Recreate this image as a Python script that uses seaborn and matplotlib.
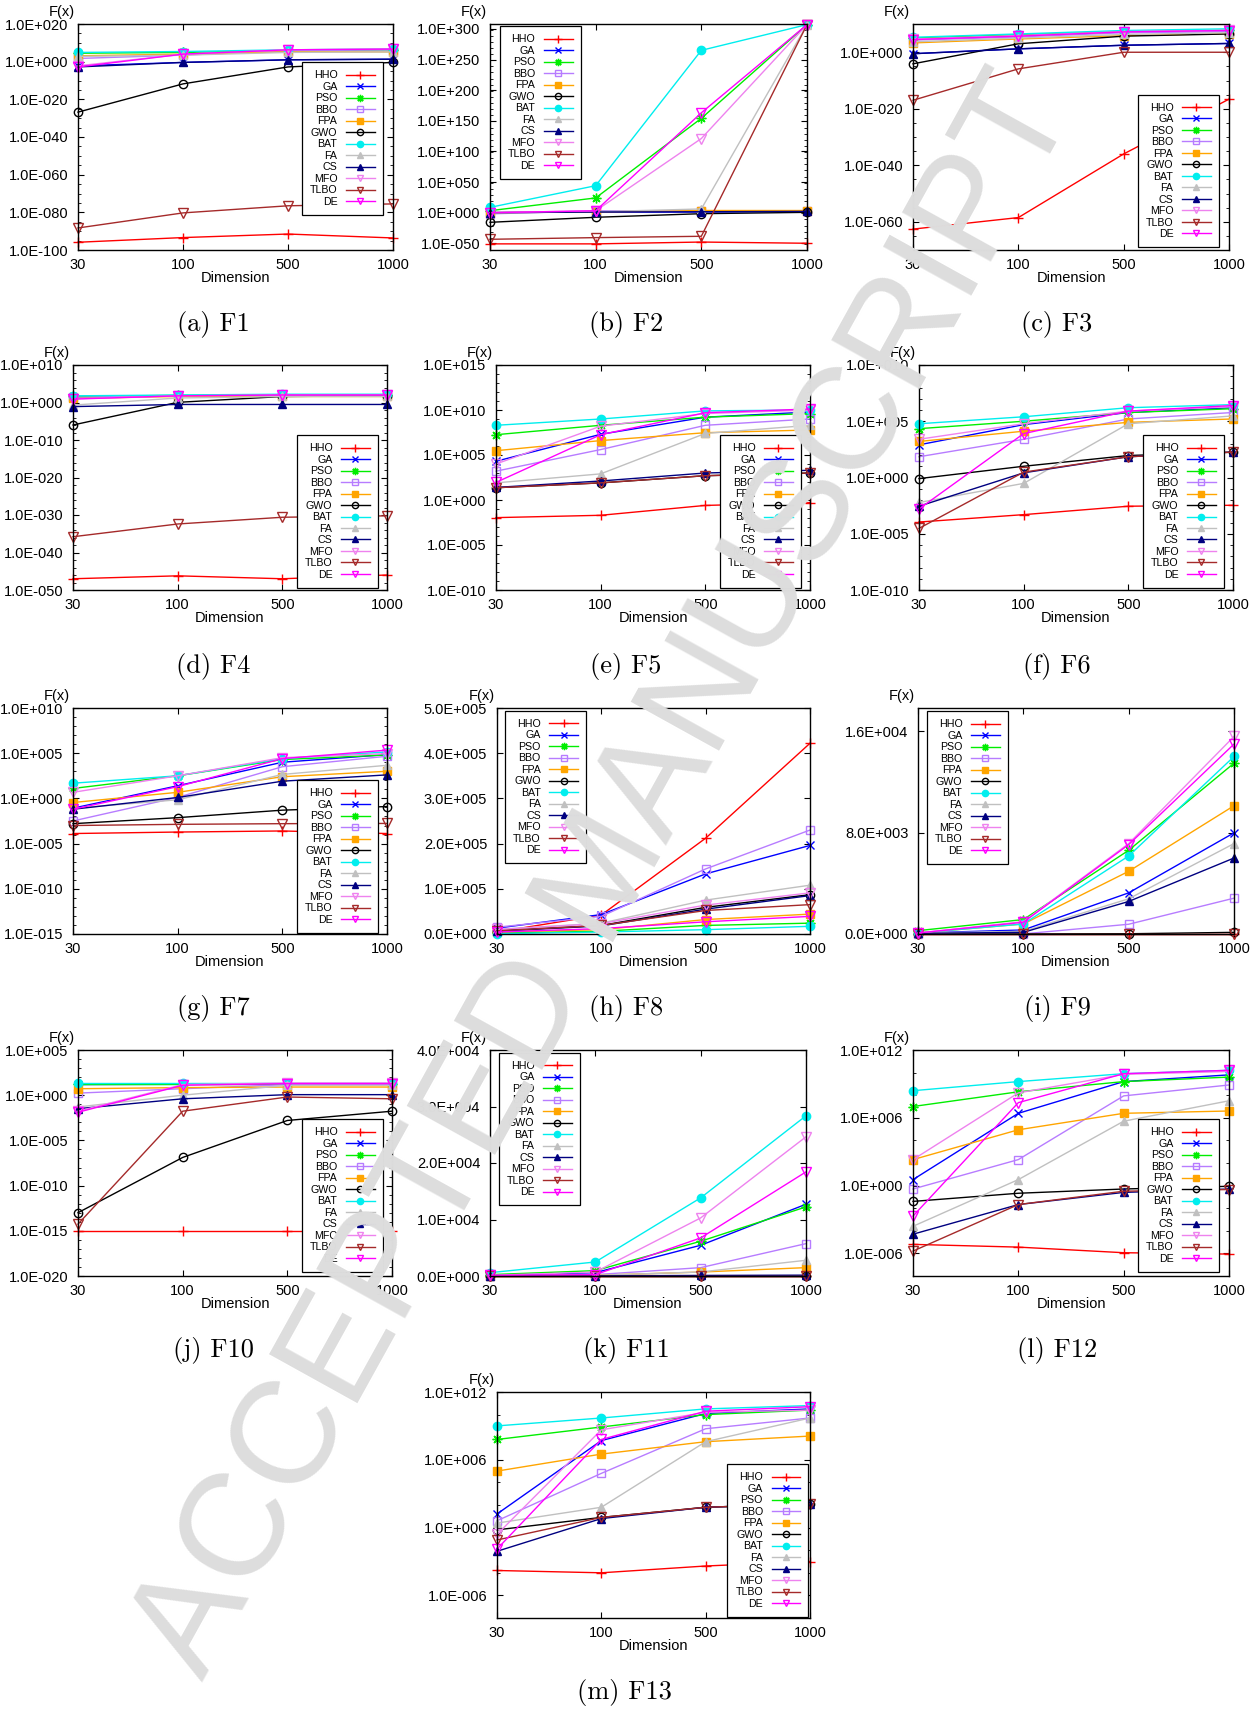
import numpy as np
import pandas as pd
import matplotlib
matplotlib.use("Agg")
import matplotlib.pyplot as plt
import seaborn as sns
from matplotlib.ticker import FixedLocator, FuncFormatter, NullFormatter

ALGORITHMS = ["HHO", "GA", "PSO", "BBO", "FPA", "GWO", "BAT", "FA", "CS", "MFO", "TLBO", "DE"]
DIMENSIONS = [30, 100, 500, 1000]
DIM_LABELS = ["30", "100", "500", "1000"]

F1 = {
    "HHO": [1.3e-96, 4e-94, 3e-92, 2.5e-94],
    "GA": [6e-3, 0.4, 10, 20],
    "PSO": [3e4, 8e4, 6e5, 2e6],
    "BBO": [50, 3e3, 6e5, 2e6],
    "FPA": [1.3e3, 1e4, 1.6e5, 1.6e5],
    "GWO": [1.6e-27, 1.6e-12, 1.6e-3, 0.4],
    "BAT": [8e4, 2.5e5, 2e6, 5e6],
    "FA": [630, 3e3, 8e4, 1.6e5],
    "CS": [1.6e-3, 0.4, 10, 20],
    "MFO": [6e-3, 1e4, 2e6, 5e6],
    "TLBO": [5e-89, 5e-81, 3e-77, 3e-76],
    "DE": [1.6e-3, 1e4, 2e6, 5e6],
}
F2 = {
    "HHO": [1e-51, 1e-51, 1e-48, 1e-50],
    "GA": [1, 10, 10, 100],
    "PSO": [1.6e3, 1e24, 1e154, 1e307],
    "BBO": [0.01, 1e3, 1e3, 1e3],
    "FPA": [1, 10, 3e3, 3e3],
    "GWO": [1.6e-16, 2.5e-8, 0.02, 3],
    "BAT": [4e8, 1e44, 1e265, 1e307],
    "FA": [1, 30, 1e6, 1e307],
    "CS": [1, 10, 30, 100],
    "MFO": [1, 1e3, 1e121, 1e307],
    "TLBO": [3e-44, 1.6e-41, 2.5e-39, 1e307],
    "DE": [1, 1e3, 1e163, 1e307],
}
F3 = {
    "HHO": [2.5e-63, 3e-59, 1e-36, 2.5e-17],
    "GA": [0.3, 16, 300, 1.3e3],
    "PSO": [1e5, 1.6e6, 2e7, 6e7],
    "BBO": [2e4, 2.5e5, 8e6, 2e7],
    "FPA": [2e3, 5e4, 8e5, 4e6],
    "GWO": [8e-5, 1e3, 5e5, 3e6],
    "BAT": [2e5, 3e6, 5e7, 2e8],
    "FA": [5e3, 1e5, 2e6, 8e6],
    "CS": [0.3, 16, 300, 1.3e3],
    "MFO": [5e4, 8e5, 2e7, 6e7],
    "TLBO": [1e-17, 1.3e-6, 1, 1],
    "DE": [3e4, 5e5, 1.6e7, 5e7],
}
F4 = {
    "HHO": [1e-47, 6e-47, 1e-47, 1e-46],
    "GA": [16, 60, 100, 100],
    "PSO": [40, 80, 100, 100],
    "BBO": [25, 60, 80, 80],
    "FPA": [12, 40, 40, 40],
    "GWO": [1e-6, 1.1, 40, 60],
    "BAT": [60, 100, 160, 160],
    "FA": [0.2, 16, 40, 40],
    "CS": [0.08, 0.3, 0.3, 0.3],
    "MFO": [10, 60, 100, 100],
    "TLBO": [1.6e-36, 4e-33, 2.5e-31, 6e-31],
    "DE": [8, 60, 100, 100],
}
F5 = {
    "HHO": [0.011, 0.02, 0.25, 0.5],
    "GA": [2e4, 2e7, 1.6e9, 6e9],
    "PSO": [1.8e7, 2e8, 1.6e9, 4e9],
    "BBO": [1.6e3, 4e5, 2e8, 1e9],
    "FPA": [3e5, 4e6, 3e7, 6e7],
    "GWO": [23, 80, 500, 1e3],
    "BAT": [2e8, 1e9, 8e9, 1e10],
    "FA": [80, 800, 2.5e7, 2e8],
    "CS": [25, 130, 1e3, 2e3],
    "MFO": [1e4, 1.6e8, 4e9, 1e10],
    "TLBO": [23, 80, 500, 1e3],
    "DE": [90, 1.8e7, 5e9, 1.3e10],
}
F6 = {
    "HHO": [1.1e-4, 5e-4, 2.8e-3, 3.4e-3],
    "GA": [800, 5e4, 6e5, 1.6e6],
    "PSO": [2.2e4, 1e5, 6e5, 1.3e6],
    "BBO": [70, 2.5e3, 1.6e5, 6e5],
    "FPA": [1.6e3, 1.3e4, 8e4, 1.6e5],
    "GWO": [0.8, 10, 90, 180],
    "BAT": [6e4, 2.5e5, 1.6e6, 3e6],
    "FA": [6e-3, 0.3, 6e4, 3e5],
    "CS": [2.8e-3, 2.6, 70, 180],
    "MFO": [2.5e3, 6e4, 8e5, 2e6],
    "TLBO": [3e-5, 3, 70, 180],
    "DE": [1.6e-3, 8e3, 8e5, 2.5e6],
}
F7 = {
    "HHO": [1.3e-4, 1.9e-4, 2.5e-4, 1.3e-4],
    "GA": [0.083, 25, 1e4, 7e4],
    "PSO": [12.6, 316, 2e4, 6.3e4],
    "BBO": [3.2e-3, 1.3, 3.2e3, 4.6e4],
    "FPA": [0.35, 4.7, 250, 1e3],
    "GWO": [1.6e-3, 7.4e-3, 0.05, 0.126],
    "BAT": [48, 316, 2.5e4, 1.4e5],
    "FA": [0.08, 0.7, 450, 4.6e3],
    "CS": [0.063, 1.26, 80, 400],
    "MFO": [4.7, 316, 3.2e4, 9e4],
    "TLBO": [1e-3, 1.35e-3, 1.6e-3, 1.7e-3],
    "DE": [0.063, 20, 2.5e4, 2.2e5],
}
F8 = {
    "HHO": [4.4e3, 4.2e4, 2.12e5, 4.22e5],
    "GA": [1.3e4, 4.3e4, 1.33e5, 1.96e5],
    "PSO": [2.2e3, 6e3, 1.9e4, 2.4e4],
    "BBO": [1.5e4, 3.9e4, 1.44e5, 2.3e5],
    "FPA": [4.4e3, 9.6e3, 3.2e4, 4.4e4],
    "GWO": [7e3, 1.9e4, 5.9e4, 8.7e4],
    "BAT": [700, 4.4e3, 9.6e3, 1.7e4],
    "FA": [1e4, 2.4e4, 7.5e4, 1.08e5],
    "CS": [6e3, 1.8e4, 5.5e4, 8.5e4],
    "MFO": [1e4, 2.3e4, 6.4e4, 9.1e4],
    "TLBO": [7e3, 1.9e4, 5.2e4, 6.5e4],
    "DE": [4.4e3, 1.2e4, 2.7e4, 3.9e4],
}
F9 = {
    "HHO": [0, 0, 0, 0],
    "GA": [80, 320, 3250, 7990],
    "PSO": [265, 1140, 6610, 13490],
    "BBO": [0, 10, 770, 2830],
    "FPA": [80, 790, 4950, 10130],
    "GWO": [2, 5, 20, 130],
    "BAT": [80, 790, 6160, 14020],
    "FA": [80, 210, 2780, 7140],
    "CS": [50, 130, 2570, 6000],
    "MFO": [80, 980, 7140, 15600],
    "TLBO": [0, 0, 0, 0],
    "DE": [80, 925, 7060, 15000],
}
F10 = {
    "HHO": [8.88e-16, 8.88e-16, 8.88e-16, 8.88e-16],
    "GA": [15, 16, 19, 19],
    "PSO": [19, 19, 19, 19],
    "BBO": [1.7, 5.2, 15, 15],
    "FPA": [5.2, 6.9, 8, 8],
    "GWO": [1e-13, 1.3e-7, 1.6e-3, 0.017],
    "BAT": [23, 23, 23, 23],
    "FA": [0.05, 1, 12.6, 12.6],
    "CS": [0.032, 0.4, 1.15, 1.15],
    "MFO": [0.017, 15, 23, 23],
    "TLBO": [5.5e-15, 0.017, 0.63, 0.4],
    "DE": [0.013, 12.6, 19, 19],
}
F11 = {
    "HHO": [0, 0, 0, 0],
    "GA": [120, 590, 5440, 12700],
    "PSO": [240, 950, 6150, 12230],
    "BBO": [0, 240, 1480, 5730],
    "FPA": [0, 120, 700, 1480],
    "GWO": [0, 0, 0, 0],
    "BAT": [590, 2480, 13830, 28360],
    "FA": [0, 120, 710, 2780],
    "CS": [0, 30, 100, 150],
    "MFO": [120, 700, 10280, 24640],
    "TLBO": [0, 0, 0, 0],
    "DE": [120, 240, 6740, 18430],
}
F12 = {
    "HHO": [6.3e-6, 3.6e-6, 1.15e-6, 8.7e-7],
    "GA": [3.4, 2.5e6, 1.6e9, 6.3e9],
    "PSO": [1e7, 2e8, 1.6e9, 4e9],
    "BBO": [0.5, 200, 8.7e7, 8e8],
    "FPA": [200, 8.7e4, 2.5e6, 4e6],
    "GWO": [0.04, 0.21, 0.5, 0.87],
    "BAT": [2.5e8, 1.6e9, 8e9, 1.6e10],
    "FA": [2.5e-4, 3.4, 5e5, 3.2e7],
    "CS": [5e-5, 0.021, 0.25, 0.5],
    "MFO": [200, 1.6e8, 7e9, 1.26e10],
    "TLBO": [1.6e-6, 0.021, 0.32, 0.45],
    "DE": [2e-3, 2.2e7, 8e9, 1.6e10],
}
F13 = {
    "HHO": [1.6e-4, 1e-4, 4e-4, 1e-3],
    "GA": [16, 5e7, 1.26e10, 3.2e10],
    "PSO": [6.3e7, 8e8, 1e10, 2.5e10],
    "BBO": [4, 6.3e4, 5.6e8, 5e9],
    "FPA": [1e5, 3.2e6, 4e7, 1.26e8],
    "GWO": [0.63, 8, 63, 126],
    "BAT": [1e9, 5e9, 3.2e10, 6.3e10],
    "FA": [2.5, 63, 4e7, 5e9],
    "CS": [8e-3, 6.3, 63, 126],
    "MFO": [0.25, 4.5e8, 1.6e10, 2.5e10],
    "TLBO": [0.08, 8, 63, 126],
    "DE": [0.0126, 6.3e7, 2e10, 5e10],
}

CAPTIONS = ["(a) F1", "(b) F2", "(c) F3", "(d) F4", "(e) F5", "(f) F6", "(g) F7",
            "(h) F8", "(i) F9", "(j) F10", "(k) F11", "(l) F12", "(m) F13"]

STYLE = {
    "HHO": dict(color="#ff0000", marker="+", fill=False, ms=7),
    "GA": dict(color="#0000ff", marker="x", fill=False, ms=6),
    "PSO": dict(color="#00ee00", marker=(8, 2, 0), fill=False, ms=7),
    "BBO": dict(color="#b77cff", marker="s", fill=False, ms=6),
    "FPA": dict(color="#ffa500", marker="s", fill=True, ms=6),
    "GWO": dict(color="#000000", marker="o", fill=False, ms=6),
    "BAT": dict(color="#00eeee", marker="o", fill=True, ms=6),
    "FA": dict(color="#c0c0c0", marker="^", fill=True, ms=6),
    "CS": dict(color="#000080", marker="^", fill=True, ms=5.5),
    "MFO": dict(color="#ee82ee", marker="v", fill=False, ms=6.5),
    "TLBO": dict(color="#a52a2a", marker="v", fill=False, ms=6.5),
    "DE": dict(color="#ff00ff", marker="v", fill=False, ms=6.5),
}

# panel layout (pixel rectangles: left, top, right, bottom)
PANELS = [
    dict(data=F1, scale="log", ylim=(1e-100, 1e20), major=range(-100, 21, 20), minor=5,
         rect=(78, 24, 393, 250), loc="upper right", anchor=(0.968, 0.83), cap=(213, 325)),
    dict(data=F2, scale="log", ylim=(1e-61, 1e308), major=range(-50, 301, 50), minor=10,
         rect=(490, 24, 807, 250), loc="upper left", anchor=(0.03, 0.99), cap=(626, 325)),
    dict(data=F3, scale="log", ylim=(1e-70, 1e10), major=range(-60, 1, 20), minor=5,
         rect=(913, 24, 1229, 250), loc="lower right", anchor=(0.968, 0.013), cap=(1057, 325)),
    dict(data=F4, scale="log", ylim=(1e-50, 1e10), major=range(-50, 11, 10), minor=2,
         rect=(73, 365, 387, 590), loc="lower right", anchor=(0.971, 0.01), cap=(213, 667)),
    dict(data=F5, scale="log", ylim=(1e-10, 1e15), major=range(-10, 16, 5), minor=1,
         rect=(496, 365, 810, 590), loc="lower right", anchor=(0.971, 0.01), cap=(626, 667)),
    dict(data=F6, scale="log", ylim=(1e-10, 1e10), major=range(-10, 11, 5), minor=1,
         rect=(919, 365, 1233, 590), loc="lower right", anchor=(0.971, 0.01), cap=(1057, 667)),
    dict(data=F7, scale="log", ylim=(1e-15, 1e10), major=range(-15, 11, 5), minor=1,
         rect=(73, 708, 387, 934), loc="lower right", anchor=(0.971, 0.005), cap=(213, 1009)),
    dict(data=F8, scale="linear", ylim=(0, 5e5), major=[0, 1e5, 2e5, 3e5, 4e5, 5e5], minor=None,
         rect=(497, 708, 810, 934), loc="upper left", anchor=(0.026, 0.987), cap=(626, 1009)),
    dict(data=F9, scale="linear", ylim=(0, 1.785e4), major=[0, 8e3, 1.6e4], minor=None,
         rect=(918, 708, 1234, 934), loc="upper left", anchor=(0.028, 0.985), cap=(1057, 1009)),
    dict(data=F10, scale="log", ylim=(1e-20, 1e5), major=range(-20, 6, 5), minor=1,
         rect=(78, 1050, 392, 1276), loc="lower right", anchor=(0.971, 0.018), cap=(213, 1351)),
    dict(data=F11, scale="linear", ylim=(0, 4e4), major=[0, 1e4, 2e4, 3e4, 4e4], minor=None,
         rect=(490, 1050, 806, 1276), loc="upper left", anchor=(0.028, 0.987), cap=(626, 1351)),
    dict(data=F12, scale="log", ylim=(1e-8, 1e12), major=range(-6, 13, 6), minor=2,
         rect=(913, 1050, 1229, 1276), loc="lower right", anchor=(0.968, 0.018), cap=(1057, 1351)),
    dict(data=F13, scale="log", ylim=(1e-8, 1e12), major=range(-6, 13, 6), minor=2,
         rect=(497, 1392, 810, 1618), loc="lower right", anchor=(0.995, 0.005), cap=(624, 1693)),
]


def sci(v, pos=None):
    if v == 0:
        return "0.0E+000"
    e = int(np.floor(np.log10(abs(v)) + 1e-9))
    m = v / (10.0 ** e)
    if round(m, 1) >= 10:
        m /= 10
        e += 1
    return f"{m:.1f}E{e:+04d}"


plt.rcParams["font.family"] = ["Liberation Sans", "DejaVu Sans"]
plt.rcParams["axes.linewidth"] = 1.0

W, H = 1255, 1713
fig = plt.figure(figsize=(W / 100, H / 100), dpi=100)

for cap, p in zip(CAPTIONS, PANELS):
    l, t, r, b = p["rect"]
    ax = fig.add_axes([l / W, 1 - b / H, (r - l) / W, (b - t) / H])
    for alg in ALGORITHMS:
        st = STYLE[alg]
        df = pd.DataFrame({"pos": list(range(len(DIMENSIONS))), "value": p["data"][alg]})
        sns.lineplot(data=df, x="pos", y="value", ax=ax, estimator=None, errorbar=None,
                     color=st["color"], marker=st["marker"], markersize=st["ms"],
                     markerfacecolor=st["color"] if st["fill"] else "none",
                     markeredgecolor=st["color"], markeredgewidth=1.0,
                     linewidth=1.0, label=alg, clip_on=False)
    if p["scale"] == "log":
        ax.set_yscale("log")
        ax.yaxis.set_major_locator(FixedLocator([10.0 ** e for e in p["major"]]))
        lo, hi = int(np.floor(np.log10(p["ylim"][0]))), int(np.ceil(np.log10(p["ylim"][1])))
        minors = [10.0 ** e for e in range(lo, hi + 1, p["minor"])
                  if e not in p["major"] and p["ylim"][0] <= 10.0 ** e <= p["ylim"][1]]
        ax.yaxis.set_minor_locator(FixedLocator(minors))
        ax.yaxis.set_minor_formatter(NullFormatter())
    else:
        ax.yaxis.set_major_locator(FixedLocator(p["major"]))
    ax.yaxis.set_major_formatter(FuncFormatter(sci))
    ax.set_ylim(*p["ylim"])
    ax.set_xlim(0, len(DIMENSIONS) - 1)
    ax.set_xticks(range(len(DIMENSIONS)))
    ax.set_xticklabels(DIM_LABELS)
    ax.set_xlabel("")
    ax.set_ylabel("")
    ax.tick_params(axis="both", which="major", direction="in", top=True, right=True,
                   length=4, width=0.8, labelsize=10.5, color="black")
    ax.tick_params(axis="y", which="major", pad=7)
    ax.tick_params(axis="x", which="major", pad=6)
    ax.tick_params(axis="both", which="minor", direction="in", top=True, right=True,
                   length=2, width=0.6)
    for s in ax.spines.values():
        s.set_color("black")
    ax.text(-0.05, 1.055, "F(x)", transform=ax.transAxes, ha="center", va="center",
            fontsize=10.5)
    ax.text(0.5, -0.125, "Dimension", transform=ax.transAxes, ha="center", va="center",
            fontsize=10.5)
    handles, labels = ax.get_legend_handles_labels()
    leg = ax.legend(handles, labels, loc=p["loc"], bbox_to_anchor=p["anchor"],
                    markerfirst=False, fontsize=7.7, frameon=True, fancybox=False,
                    framealpha=1, edgecolor="black", borderpad=0.75, labelspacing=0.14,
                    handlelength=2.7, handletextpad=0.8, borderaxespad=0, markerscale=0.75)
    leg.get_frame().set_linewidth(0.9)
    fig.text(p["cap"][0] / W, 1 - p["cap"][1] / H, cap, ha="center", va="center",
             fontsize=19, family="cmr10")

fig.text(0.483, 0.488, "ACCEPTED MANUSCRIPT", rotation=61, fontsize=105, color="#dddddd",
         ha="center", va="center", rotation_mode="anchor", zorder=10,
         family="Liberation Sans")

fig.savefig("out.png", dpi=100)
